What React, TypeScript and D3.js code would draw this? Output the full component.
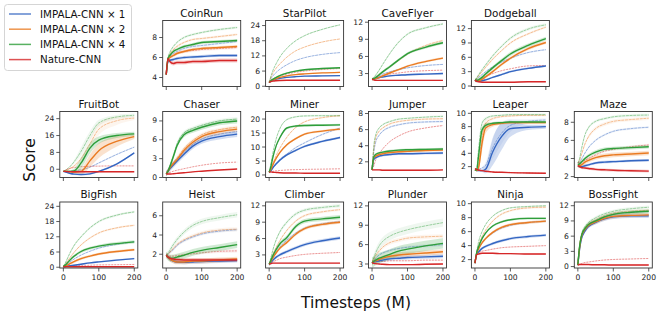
import React from "react";
import * as d3 from "d3";

const steps = [0, 5, 10, 20, 30, 50, 75, 100, 150, 200];
const seriesNames = ["IMPALA-CNN × 1", "IMPALA-CNN × 2", "IMPALA-CNN × 4", "Nature-CNN"];
const seriesColors = ["#3466c2", "#ea7b22", "#2e9e3a", "#d62728"];
const xTicks = [0, 100, 200];

// series order: x1, x2, x4, Nature. test = solid, train = faint
const coinRunTest = [
  [4.3, 5.6, 5.7, 5.8, 5.9, 6.0, 6.05, 6.1, 6.2, 6.2],
  [4.3, 5.8, 6.0, 6.2, 6.4, 6.6, 6.8, 6.9, 7.0, 7.1],
  [4.3, 5.9, 6.2, 6.6, 6.8, 7.1, 7.3, 7.5, 7.6, 7.7],
  [4.3, 5.9, 5.6, 5.4, 5.5, 5.5, 5.6, 5.6, 5.7, 5.7],
];
const coinRunTrain = [
  [4.3, 5.8, 6.1, 6.4, 6.6, 6.9, 7.1, 7.2, 7.4, 7.6],
  [4.3, 5.9, 6.3, 6.8, 7.1, 7.5, 7.8, 7.9, 8.1, 8.3],
  [4.3, 6.0, 6.5, 7.1, 7.5, 8.0, 8.3, 8.5, 8.8, 9.0],
  [4.3, 5.9, 6.0, 6.2, 6.4, 6.6, 6.7, 6.8, 6.9, 7.0],
];
const coinRunSpread = [0.15, 0.15, 0.15, 0.2];

const starPilotTest = [
  [1.5, 2.0, 2.3, 2.8, 3.1, 3.5, 3.8, 4.0, 4.1, 4.2],
  [1.5, 2.1, 2.5, 3.0, 3.5, 4.1, 4.6, 4.9, 5.3, 5.5],
  [1.5, 2.2, 2.7, 3.5, 4.2, 5.2, 6.0, 6.5, 7.0, 7.3],
  [1.5, 1.8, 2.0, 2.2, 2.3, 2.4, 2.4, 2.4, 2.4, 2.4],
];
const starPilotTrain = [
  [1.5, 3.0, 4.0, 5.5, 6.7, 8.5, 10.2, 11.3, 12.6, 13.3],
  [1.5, 3.5, 5.0, 7.2, 8.8, 11.5, 14.0, 15.5, 17.5, 18.7],
  [1.5, 4.0, 6.0, 9.0, 11.5, 15.0, 18.0, 20.0, 22.5, 24.3],
  [1.5, 2.3, 2.8, 3.5, 4.0, 4.8, 5.5, 6.0, 6.6, 7.0],
];
const starPilotSpread = [0.2, 0.2, 0.3, 0.1];

const caveFlyerTest = [
  [2.0, 2.0, 2.1, 2.3, 2.4, 2.6, 2.7, 2.8, 2.9, 3.0],
  [2.0, 2.0, 2.1, 2.3, 2.6, 3.1, 3.7, 4.3, 5.1, 5.7],
  [2.0, 2.1, 2.3, 2.8, 3.3, 4.2, 5.4, 6.5, 7.6, 8.4],
  [2.0, 1.9, 1.8, 1.8, 1.8, 1.8, 1.8, 1.8, 1.8, 1.8],
];
const caveFlyerTrain = [
  [2.0, 2.1, 2.3, 2.6, 2.9, 3.3, 3.7, 4.0, 4.4, 4.6],
  [2.0, 2.1, 2.3, 2.8, 3.3, 4.2, 5.3, 6.4, 7.9, 8.8],
  [2.0, 2.3, 2.7, 3.6, 4.6, 6.5, 8.5, 9.9, 11.0, 11.7],
  [2.0, 2.1, 2.2, 2.4, 2.6, 2.9, 3.1, 3.3, 3.5, 3.6],
];
const caveFlyerSpread = [0.15, 0.2, 0.25, 0.1];

const dodgeballTest = [
  [1.2, 1.0, 1.0, 1.1, 1.3, 1.8, 2.4, 3.0, 3.7, 4.2],
  [1.2, 1.1, 1.1, 1.4, 1.9, 3.0, 4.5, 5.8, 7.8, 9.1],
  [1.2, 1.2, 1.3, 1.8, 2.5, 3.8, 5.3, 6.7, 8.5, 9.9],
  [1.2, 1.0, 0.9, 0.8, 0.8, 0.8, 0.8, 0.8, 0.9, 0.9],
];
const dodgeballTrain = [
  [1.2, 1.5, 1.8, 2.4, 3.0, 4.0, 5.0, 5.8, 7.0, 7.6],
  [1.2, 1.6, 2.1, 3.0, 3.9, 5.6, 7.4, 9.0, 10.9, 12.3],
  [1.2, 1.7, 2.3, 3.4, 4.4, 6.3, 8.3, 10.0, 11.9, 12.8],
  [1.2, 1.3, 1.4, 1.7, 2.0, 2.6, 3.2, 3.6, 4.2, 4.3],
];
const dodgeballSpread = [0.2, 0.3, 0.4, 0.1];

const fruitBotTest = [
  [-1.0, -1.2, -1.5, -2.0, -2.3, -2.5, -2.2, -1.0, 2.5, 7.8],
  [-1.0, -1.0, -1.0, -1.2, -1.3, -1.0, 4.0, 8.8, 13.2, 15.5],
  [-1.0, -1.0, -1.0, -1.0, -0.8, 3.0, 10.0, 13.8, 16.0, 16.8],
  [-1.0, -1.0, -1.1, -1.1, -1.2, -1.2, -1.2, -1.2, -1.2, -1.2],
];
const fruitBotTrain = [
  [-1.0, -1.0, -1.0, -1.0, -0.8, -0.3, 1.0, 3.0, 7.0, 10.5],
  [-1.0, -0.8, -0.5, 0.5, 1.5, 5.0, 12.0, 19.0, 23.0, 24.3],
  [-1.0, -0.5, 0.0, 1.5, 3.5, 8.5, 16.0, 22.0, 24.8, 25.6],
  [-1.0, -0.5, 0.0, 0.5, 0.8, 1.2, 1.4, 1.5, 1.6, 1.6],
];
const fruitBotSpread = [
  0.4,
  [0, 0.2, 0.3, 0.5, 0.8, 1.5, 3.0, 3.5, 2.5, 1.2],
  [0, 0.2, 0.3, 0.5, 1.0, 2.5, 2.5, 1.8, 1.2, 1.0],
  0.2,
];

const chaserTest = [
  [0.6, 1.0, 1.4, 2.0, 2.6, 3.7, 5.0, 5.8, 6.5, 6.9],
  [0.6, 1.0, 1.5, 2.2, 2.8, 4.3, 5.6, 6.5, 7.3, 7.7],
  [0.6, 1.0, 1.7, 3.3, 5.0, 6.8, 7.5, 8.0, 8.7, 9.0],
  [0.6, 0.55, 0.55, 0.6, 0.65, 0.75, 0.9, 1.0, 1.2, 1.35],
];
const chaserTrain = [
  [0.6, 1.1, 1.5, 2.2, 2.8, 4.0, 5.3, 6.1, 6.9, 7.3],
  [0.6, 1.1, 1.6, 2.4, 3.1, 4.6, 5.9, 6.8, 7.6, 8.0],
  [0.6, 1.1, 1.8, 3.5, 5.3, 7.1, 7.8, 8.3, 9.0, 9.3],
  [0.6, 0.7, 0.8, 1.0, 1.15, 1.4, 1.7, 1.95, 2.3, 2.45],
];
const chaserSpread = [0.45, 0.4, 0.4, 0.05];

const minerTest = [
  [1.0, 1.5, 2.5, 4.0, 5.3, 7.2, 8.8, 10.2, 12.0, 13.4],
  [1.0, 2.0, 3.5, 6.0, 8.0, 10.8, 13.0, 14.6, 15.7, 16.4],
  [1.0, 3.0, 6.0, 10.5, 13.3, 16.8, 17.5, 17.7, 17.8, 17.9],
  [1.0, 1.1, 1.0, 0.9, 0.8, 0.7, 0.7, 0.6, 0.6, 0.6],
];
const minerTrain = [
  [1.0, 1.5, 2.5, 4.0, 5.5, 7.5, 9.8, 11.5, 14.5, 16.8],
  [1.0, 2.5, 4.0, 7.0, 9.5, 13.5, 17.0, 19.0, 20.5, 21.2],
  [1.0, 4.0, 7.5, 13.0, 16.5, 19.8, 20.8, 21.1, 21.2, 21.2],
  [1.0, 1.2, 1.3, 1.5, 1.6, 1.8, 1.9, 2.0, 2.1, 2.2],
];
const minerSpread = [0.4, 0.4, 0.4, 0.1];

const jumperTest = [
  [1.0, 2.3, 2.5, 2.7, 2.8, 2.9, 3.0, 3.0, 3.05, 3.1],
  [1.0, 2.5, 2.7, 2.9, 3.0, 3.15, 3.25, 3.3, 3.4, 3.45],
  [1.0, 2.6, 2.9, 3.1, 3.2, 3.35, 3.45, 3.5, 3.55, 3.6],
  [1.0, 1.0, 1.0, 1.0, 0.95, 0.95, 0.95, 0.95, 0.95, 1.0],
];
const jumperTrain = [
  [1.0, 3.2, 4.4, 5.3, 5.8, 6.3, 6.6, 6.8, 6.95, 7.0],
  [1.0, 3.6, 4.9, 5.8, 6.2, 6.7, 7.0, 7.15, 7.3, 7.35],
  [1.0, 4.0, 5.3, 6.2, 6.6, 7.0, 7.3, 7.4, 7.55, 7.65],
  [1.0, 1.5, 2.2, 3.0, 3.6, 4.5, 5.2, 5.7, 6.2, 6.5],
];
const jumperSpread = [0.15, 0.15, 0.15, 0.08];

const leaperTest = [
  [1.5, 1.4, 1.4, 1.4, 1.6, 4.2, 6.5, 7.7, 7.9, 8.0],
  [1.5, 1.4, 1.8, 5.5, 7.8, 8.3, 8.5, 8.6, 8.6, 8.6],
  [1.5, 1.5, 3.5, 7.5, 8.2, 8.5, 8.6, 8.7, 8.7, 8.7],
  [1.7, 1.6, 1.5, 1.4, 1.3, 1.2, 1.15, 1.1, 1.05, 1.0],
];
const leaperTrain = [
  [1.5, 1.5, 1.6, 1.8, 2.2, 4.8, 7.0, 8.2, 8.8, 9.0],
  [1.5, 1.5, 2.2, 6.5, 8.5, 9.2, 9.5, 9.6, 9.7, 9.7],
  [1.5, 1.8, 4.5, 8.5, 9.2, 9.6, 9.7, 9.8, 9.8, 9.8],
  [1.7, 1.6, 1.5, 1.4, 1.3, 1.2, 1.15, 1.1, 1.05, 1.0],
];
const leaperSpread = [
  [0.05, 0.1, 0.1, 0.2, 0.6, 2.0, 2.0, 1.2, 0.4, 0.3],
  [0.05, 0.1, 0.3, 1.2, 0.8, 0.3, 0.2, 0.2, 0.2, 0.2],
  [0.05, 0.2, 0.5, 0.5, 0.3, 0.2, 0.2, 0.2, 0.2, 0.2],
  0.05,
];

const mazeTest = [
  [3.2, 3.1, 3.1, 3.2, 3.3, 3.5, 3.6, 3.65, 3.75, 3.8],
  [3.2, 3.2, 3.3, 3.6, 3.8, 4.1, 4.3, 4.4, 4.5, 4.6],
  [3.3, 3.4, 3.6, 4.0, 4.3, 4.7, 5.0, 5.1, 5.2, 5.3],
  [3.2, 3.1, 3.0, 2.95, 2.9, 2.8, 2.75, 2.7, 2.65, 2.6],
];
const mazeTrain = [
  [3.5, 3.6, 3.9, 4.6, 5.2, 6.0, 6.6, 7.0, 7.3, 7.45],
  [3.5, 3.8, 4.4, 5.6, 6.4, 7.3, 7.8, 8.1, 8.3, 8.45],
  [3.5, 4.0, 5.0, 6.6, 7.4, 8.1, 8.4, 8.6, 8.75, 8.8],
  [3.5, 3.5, 3.6, 3.8, 4.0, 4.4, 4.8, 5.0, 5.3, 5.5],
];
const mazeSpread = [0.15, 0.25, 0.2, 0.15];

const bigFishTest = [
  [0.3, 0.3, 0.4, 0.6, 0.8, 1.2, 1.7, 2.1, 2.8, 3.4],
  [0.3, 0.5, 0.8, 1.5, 2.2, 3.4, 4.4, 5.2, 6.2, 6.9],
  [0.3, 0.8, 1.5, 3.0, 4.3, 6.2, 7.5, 8.3, 9.3, 10.0],
  [0.2, 0.2, 0.2, 0.2, 0.2, 0.2, 0.2, 0.2, 0.2, 0.2],
];
const bigFishTrain = [
  [0.3, 0.7, 1.2, 2.2, 3.2, 4.8, 6.3, 7.5, 9.0, 10.0],
  [0.3, 1.0, 2.0, 4.0, 5.8, 8.8, 11.5, 13.5, 15.5, 16.5],
  [0.3, 1.5, 3.0, 6.0, 8.5, 12.0, 15.5, 18.0, 20.5, 21.8],
  [0.2, 0.3, 0.4, 0.5, 0.6, 0.7, 0.8, 0.9, 1.0, 1.1],
];
const bigFishSpread = [0.3, 0.5, 0.6, 0.05];

const heistTest = [
  [1.9, 1.7, 1.5, 1.3, 1.2, 1.15, 1.2, 1.25, 1.3, 1.35],
  [1.9, 1.7, 1.5, 1.3, 1.2, 1.2, 1.3, 1.3, 1.4, 1.5],
  [1.9, 1.7, 1.6, 1.6, 1.7, 1.9, 2.2, 2.4, 2.7, 3.0],
  [1.9, 1.7, 1.6, 1.5, 1.45, 1.4, 1.4, 1.4, 1.4, 1.4],
];
const heistTrain = [
  [1.9, 2.0, 2.2, 2.5, 2.9, 3.4, 3.8, 4.1, 4.4, 4.55],
  [1.9, 2.0, 2.2, 2.6, 3.0, 3.5, 3.9, 4.2, 4.5, 4.6],
  [1.9, 2.1, 2.4, 3.0, 3.5, 4.3, 5.0, 5.4, 5.8, 6.1],
  [1.9, 1.8, 1.8, 1.8, 1.85, 1.95, 2.05, 2.15, 2.3, 2.35],
];
const heistSpread = [0.2, 0.25, 0.35, 0.2];

const climberTest = [
  [1.3, 1.6, 2.0, 2.6, 3.0, 3.6, 4.3, 4.9, 5.6, 6.1],
  [1.3, 1.8, 2.4, 3.4, 4.2, 5.3, 6.8, 7.8, 8.6, 9.0],
  [1.3, 2.0, 2.8, 4.0, 5.0, 6.2, 8.2, 9.2, 9.6, 9.9],
  [1.3, 1.4, 1.5, 1.5, 1.5, 1.5, 1.5, 1.5, 1.5, 1.5],
];
const climberTrain = [
  [1.3, 1.9, 2.5, 3.5, 4.4, 5.7, 7.0, 7.9, 8.7, 9.1],
  [1.3, 2.1, 3.0, 4.4, 5.6, 7.5, 9.2, 10.2, 10.9, 11.3],
  [1.3, 2.5, 3.8, 5.8, 7.2, 9.0, 10.5, 11.2, 11.7, 12.0],
  [1.3, 1.5, 1.7, 2.0, 2.3, 2.6, 2.9, 3.1, 3.3, 3.45],
];
const climberSpread = [0.3, 0.3, 0.4, 0.1];

const plunderTest = [
  [3.2, 3.3, 3.4, 3.5, 3.6, 3.8, 3.9, 4.0, 4.1, 4.2],
  [3.2, 3.4, 3.5, 3.7, 3.9, 4.2, 4.4, 4.5, 4.7, 4.9],
  [3.2, 3.4, 3.6, 3.9, 4.1, 4.5, 5.0, 5.3, 5.8, 6.2],
  [3.2, 3.1, 3.05, 3.0, 2.95, 2.9, 2.9, 2.9, 2.95, 3.0],
];
const plunderTrain = [
  [3.2, 3.6, 3.9, 4.4, 4.7, 5.1, 5.4, 5.6, 5.8, 6.0],
  [3.2, 3.8, 4.3, 5.0, 5.6, 6.3, 6.7, 7.0, 7.2, 7.3],
  [3.2, 4.0, 4.7, 5.8, 6.5, 7.3, 7.9, 8.3, 8.9, 9.4],
  [3.2, 3.3, 3.3, 3.4, 3.4, 3.5, 3.5, 3.5, 3.6, 3.6],
];
const plunderSpread = [0.3, 0.4, 0.8, 0.1];

const ninjaTest = [
  [1.5, 2.8, 3.1, 3.6, 3.9, 4.3, 4.7, 5.0, 5.3, 5.5],
  [1.5, 2.9, 3.5, 4.4, 5.0, 5.9, 6.6, 7.0, 7.3, 7.5],
  [1.5, 3.0, 3.8, 5.0, 5.8, 6.8, 7.4, 7.7, 7.9, 7.9],
  [1.5, 2.7, 2.8, 2.9, 2.9, 2.9, 2.85, 2.85, 2.8, 2.8],
];
const ninjaTrain = [
  [1.5, 3.0, 3.6, 4.4, 5.0, 5.8, 6.5, 6.9, 7.3, 7.5],
  [1.5, 3.0, 4.0, 5.3, 6.2, 7.5, 8.5, 9.0, 9.4, 9.5],
  [1.5, 3.2, 4.5, 6.0, 7.0, 8.2, 9.0, 9.4, 9.6, 9.7],
  [1.5, 2.8, 3.0, 3.2, 3.3, 3.5, 3.7, 3.8, 3.9, 4.0],
];
const ninjaSpread = [0.2, 0.2, 0.15, 0.1];

const bossFightTest = [
  [0.3, 3.5, 5.4, 7.0, 7.9, 8.7, 9.4, 9.8, 10.0, 10.0],
  [0.3, 3.8, 5.8, 7.3, 8.1, 8.8, 9.5, 9.9, 10.1, 10.2],
  [0.3, 4.0, 6.0, 7.5, 8.3, 9.0, 9.8, 10.3, 10.7, 10.9],
  [0.3, 0.4, 0.4, 0.4, 0.4, 0.35, 0.35, 0.3, 0.3, 0.3],
];
const bossFightTrain = [
  [0.3, 3.8, 5.8, 7.4, 8.2, 9.0, 9.8, 10.3, 10.7, 10.9],
  [0.3, 4.0, 6.1, 7.6, 8.4, 9.2, 10.0, 10.5, 10.9, 11.1],
  [0.3, 4.2, 6.3, 7.9, 8.7, 9.6, 10.4, 10.9, 11.4, 11.7],
  [0.3, 0.5, 0.6, 0.8, 0.9, 1.1, 1.3, 1.4, 1.5, 1.6],
];
const bossFightSpread = [0.4, 0.4, 0.4, 0.1];

const games = [
  { name: "CoinRun", row: 0, col: 1, yRange: [3.1, 9.7], yTicks: [4, 6, 8], test: coinRunTest, train: coinRunTrain, spread: coinRunSpread },
  { name: "StarPilot", row: 0, col: 2, yRange: [-0.1, 26], yTicks: [0, 6, 12, 18, 24], test: starPilotTest, train: starPilotTrain, spread: starPilotSpread },
  { name: "CaveFlyer", row: 0, col: 3, yRange: [0.73, 12.3], yTicks: [3, 6, 9, 12], test: caveFlyerTest, train: caveFlyerTrain, spread: caveFlyerSpread },
  { name: "Dodgeball", row: 0, col: 4, yRange: [-0.1, 13.7], yTicks: [0, 3, 6, 9, 12], test: dodgeballTest, train: dodgeballTrain, spread: dodgeballSpread },
  { name: "FruitBot", row: 1, col: 0, yRange: [-3.9, 27.4], yTicks: [0, 8, 16, 24], test: fruitBotTest, train: fruitBotTrain, spread: fruitBotSpread },
  { name: "Chaser", row: 1, col: 1, yRange: [0, 10.5], yTicks: [0, 3, 6, 9], test: chaserTest, train: chaserTrain, spread: chaserSpread },
  { name: "Miner", row: 1, col: 2, yRange: [-0.9, 22.7], yTicks: [0, 5, 10, 15, 20], test: minerTest, train: minerTrain, spread: minerSpread },
  { name: "Jumper", row: 1, col: 3, yRange: [0.05, 8.25], yTicks: [2, 4, 6, 8], test: jumperTest, train: jumperTrain, spread: jumperSpread },
  { name: "Leaper", row: 1, col: 4, yRange: [0.37, 10.27], yTicks: [2, 4, 6, 8, 10], test: leaperTest, train: leaperTrain, spread: leaperSpread },
  { name: "Maze", row: 1, col: 5, yRange: [1.9, 9.19], yTicks: [2, 4, 6, 8], test: mazeTest, train: mazeTrain, spread: mazeSpread },
  { name: "BigFish", row: 2, col: 0, yRange: [-0.3, 25.7], yTicks: [0, 6, 12, 18, 24], test: bigFishTest, train: bigFishTrain, spread: bigFishSpread },
  { name: "Heist", row: 2, col: 1, yRange: [0.57, 7.43], yTicks: [2, 4, 6], test: heistTest, train: heistTrain, spread: heistSpread },
  { name: "Climber", row: 2, col: 2, yRange: [0.6, 12.7], yTicks: [3, 6, 9, 12], test: climberTest, train: climberTrain, spread: climberSpread },
  { name: "Plunder", row: 2, col: 3, yRange: [2.38, 12.6], yTicks: [3, 6, 9, 12], test: plunderTest, train: plunderTrain, spread: plunderSpread },
  { name: "Ninja", row: 2, col: 4, yRange: [0.8, 10.24], yTicks: [2, 4, 6, 8, 10], test: ninjaTest, train: ninjaTrain, spread: ninjaSpread },
  { name: "BossFight", row: 2, col: 5, yRange: [-0.28, 12.73], yTicks: [0, 3, 6, 9, 12], test: bossFightTest, train: bossFightTrain, spread: bossFightSpread },
];

const W = 664;
const H = 332;
const colLeft0 = 59.8;
const colStep = 102.9;
const panelW = 78;
const panelH = 66;
const rowTops = [20.5, 111.5, 202];
const font = "DejaVu Sans, sans-serif";

const at = (s: number | number[], i: number) => (Array.isArray(s) ? s[i] : s);

function Panel({ game }: { game: any }) {
  const x = d3.scaleLinear().domain([-10, 210]).range([0, panelW]);
  const y = d3.scaleLinear().domain(game.yRange).range([panelH, 0]);
  const line = d3
    .line<number>()
    .x((_, i) => x(steps[i]))
    .y((v) => y(v))
    .curve(d3.curveMonotoneX);
  const band = (vals: number[], s: number | number[], f = 1) =>
    d3
      .area<number>()
      .x((_, i) => x(steps[i]))
      .y0((v, i) => y(v - at(s, i) * f))
      .y1((v, i) => y(v + at(s, i) * f))
      .curve(d3.curveMonotoneX)(vals) || "";
  const clipId = "clip-" + game.name;

  return (
    <g transform={`translate(${colLeft0 + game.col * colStep},${rowTops[game.row]})`}>
      <defs>
        <clipPath id={clipId}>
          <rect width={panelW} height={panelH} />
        </clipPath>
      </defs>
      <rect width={panelW} height={panelH} fill="#fff" />
      <g clipPath={`url(#${clipId})`}>
        {game.train.map((vals: number[], k: number) => (
          <path key={"tb" + k} d={band(vals, game.spread[k], 0.8)} fill={seriesColors[k]} opacity={0.08} />
        ))}
        {game.train.map((vals: number[], k: number) => (
          <path
            key={"tl" + k}
            d={line(vals) || ""}
            fill="none"
            stroke={seriesColors[k]}
            strokeWidth={0.9}
            strokeOpacity={0.5}
            strokeDasharray={k === 3 ? "2 1" : "3 0.7"}
          />
        ))}
        {game.test.map((vals: number[], k: number) => (
          <path key={"sb" + k} d={band(vals, game.spread[k])} fill={seriesColors[k]} opacity={0.22} />
        ))}
        {game.test.map((vals: number[], k: number) => (
          <path key={"sl" + k} d={line(vals) || ""} fill="none" stroke={seriesColors[k]} strokeWidth={1.4} />
        ))}
      </g>
      <rect width={panelW} height={panelH} fill="none" stroke="#333" strokeWidth={0.9} />
      {game.yTicks.map((t: number) => (
        <g key={"y" + t} transform={`translate(0,${y(t)})`}>
          <line x2={-3.5} stroke="#333" strokeWidth={0.8} />
          <text x={-5.5} dy="0.33em" textAnchor="end" fontSize={7.6} fill="#222">
            {t}
          </text>
        </g>
      ))}
      {xTicks.map((t) => (
        <g key={"x" + t} transform={`translate(${x(t)},${panelH})`}>
          <line y2={3.5} stroke="#333" strokeWidth={0.8} />
          {game.row === 2 && (
            <text y={11.5} textAnchor="middle" fontSize={7.6} fill="#222">
              {t}
            </text>
          )}
        </g>
      ))}
      <text x={panelW / 2} y={-4} textAnchor="middle" fontSize={10.4} fill="#111">
        {game.name}
      </text>
    </g>
  );
}

export default function App() {
  return (
    <svg
      width={W}
      height={H}
      style={{ position: "absolute", left: 0, top: 0, background: "#fff" }}
      fontFamily={font}
    >
      <rect width={W} height={H} fill="#fff" />
      {/* legend */}
      <g>
        <rect x={4.5} y={4.5} width={127} height={66} rx={3} fill="#fff" stroke="#d0d0d0" strokeWidth={0.9} />
        {seriesNames.map((n, k) => (
          <g key={n} transform={`translate(0,${14 + k * 15.2})`}>
            <line x1={9} x2={31} stroke={seriesColors[k]} strokeWidth={1.5} strokeOpacity={0.8} />
            <text x={40} dy="0.35em" fontSize={10.3} fill="#111">
              {n}
            </text>
          </g>
        ))}
      </g>
      {games.map((g) => (
        <Panel key={g.name} game={g} />
      ))}
      <text transform="translate(35,160) rotate(-90)" textAnchor="middle" fontSize={15.5} fill="#111">
        Score
      </text>
      <text x={356} y={308} textAnchor="middle" fontSize={15.5} fill="#111">
        Timesteps (M)
      </text>
    </svg>
  );
}
